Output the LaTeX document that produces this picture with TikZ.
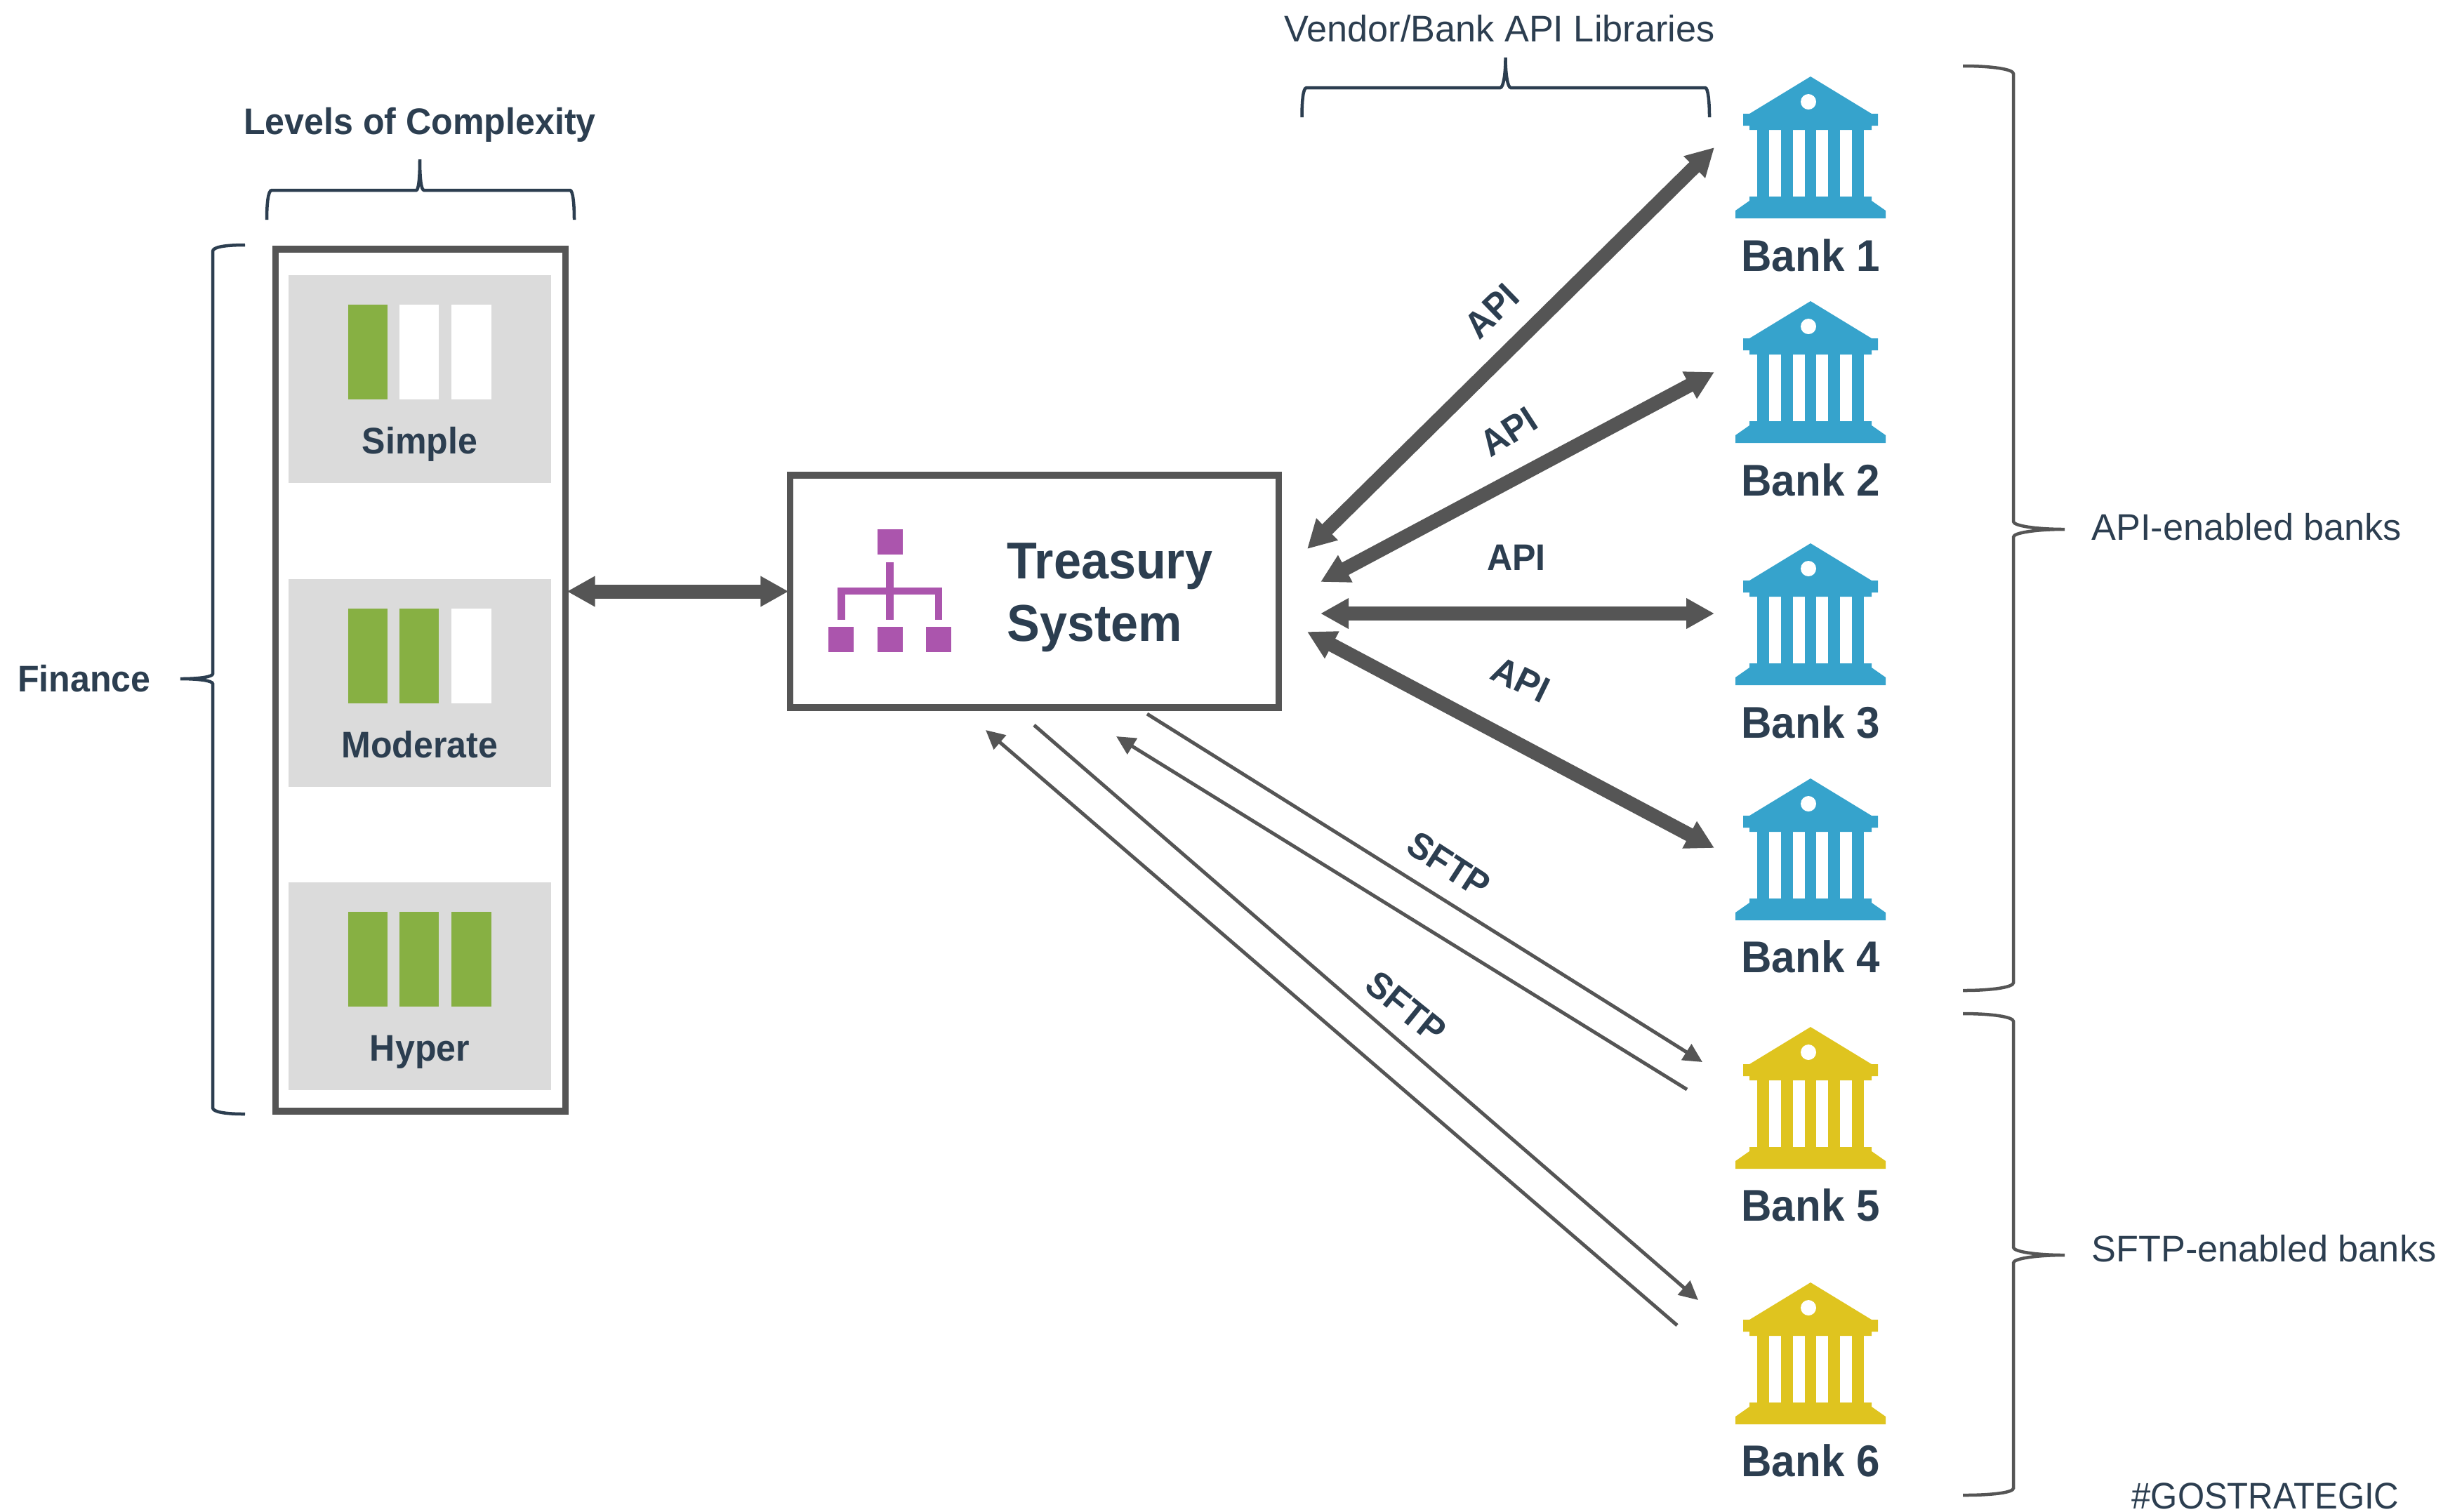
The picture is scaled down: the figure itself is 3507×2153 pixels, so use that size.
\documentclass[tikz,border=0pt]{standalone}
\usepackage{fontspec}
\setmainfont[FakeStretch=0.95]{Liberation Sans}
\newfontfamily\plainfont[FakeStretch=0.99]{Liberation Sans}
\newfontfamily\tagfont[FakeStretch=0.93]{Liberation Sans}
\usepackage{tikz}
\usetikzlibrary{arrows.meta}

\definecolor{textdark}{HTML}{2C3E50}
\definecolor{linegray}{HTML}{555555}
\definecolor{panelgray}{HTML}{DBDBDB}
\definecolor{barmark}{HTML}{87B043}
\definecolor{bankblue}{HTML}{36A3CC}
\definecolor{bankyellow}{HTML}{DFC41F}
\definecolor{orgpurple}{HTML}{AB55AD}

\tikzset{
  frame/.style={draw=linegray, line width=0.095cm, fill=white, inner sep=0pt, outer sep=0.02cm},
  level/.style={fill=panelgray, inner sep=0pt, minimum width=3.74cm, minimum height=2.96cm},
  boldlabel/.style={font=\fontsize{15}{18}\selectfont\bfseries, text=textdark, inner sep=0pt},
  banklabel/.style={font=\fontsize{18}{22}\selectfont\bfseries, text=textdark, inner sep=0pt, anchor=base},
  plainlabel/.style={font=\fontsize{15}{18}\plainfont\selectfont, text=textdark, inner sep=0pt},
  brace/.style={line width=0.045cm},
  apiarrow/.style={draw=linegray, line width=0.2cm,
    {Triangle[length=0.4cm,width=0.41cm]}-{Triangle[length=0.4cm,width=0.41cm]}},
  sftparrow/.style={draw=linegray, line width=0.05cm,
    -{Triangle[length=0.27cm,width=0.26cm]}},
  pics/bankicon/.style={code={
    \fill[#1] (0,0) -- (87,53) -- (96,53) -- (96,70) -- (87,70) -- (87,76)
      -- (-87,76) -- (-87,70) -- (-96,70) -- (-96,53) -- (-87,53) -- cycle;
    \fill[#1] (-76,70) rectangle (-59,175);
    \fill[#1] (-42,70) rectangle (-25,175);
    \fill[#1] (-8,70) rectangle (8,175);
    \fill[#1] (25,70) rectangle (42,175);
    \fill[#1] (59,70) rectangle (76,175);
    \fill[#1] (-87,171) -- (87,171) -- (87,177) -- (107,191) -- (107,202)
      -- (-107,202) -- (-107,191) -- (-87,177) -- cycle;
    \fill[white] (-3,36) circle (11);
  }}
}

\begin{document}
\begin{tikzpicture}[x=0.01cm,y=-0.01cm]
  \useasboundingbox (0,0) rectangle (3507,2153);

  % left column
  \node[frame, minimum width=4.13cm, minimum height=12.27cm] (finance) at (599,969) {};
  \node[level] (simple) at (598,540) {};
  \node[level] (moderate) at (598,973) {};
  \node[level] (hyper) at (598,1405) {};

  \fill[barmark] (496,434) rectangle (552,569);
  \fill[white] (569,434) rectangle (625,569);
  \fill[white] (643,434) rectangle (700,569);
  \fill[barmark] (496,867) rectangle (552,1002);
  \fill[barmark] (569,867) rectangle (625,1002);
  \fill[white] (643,867) rectangle (700,1002);
  \fill[barmark] (496,1299) rectangle (552,1434);
  \fill[barmark] (569,1299) rectangle (625,1434);
  \fill[barmark] (643,1299) rectangle (700,1434);

  \node[boldlabel, anchor=base] (simpletext) at (598,646) {Simple};
  \node[boldlabel, anchor=base] (moderatetext) at (598,1079) {Moderate};
  \node[boldlabel, anchor=base] (hypertext) at (598,1511) {Hyper};
  \node[boldlabel, anchor=base] (complexity) at (598,191) {Levels of Complexity};
  \node[boldlabel, anchor=base] (financetext) at (120,985) {Finance};

  % treasury box
  \node[frame, minimum width=6.96cm, minimum height=3.31cm] (treasury) at (1473.5,842.5) {};
  \fill[orgpurple] (1250,754) rectangle (1286,790);
  \fill[orgpurple] (1262,801) rectangle (1272.5,883);
  \fill[orgpurple] (1193,837) rectangle (1342,847);
  \fill[orgpurple] (1193,837) rectangle (1203.5,883);
  \fill[orgpurple] (1332,837) rectangle (1342,883);
  \fill[orgpurple] (1180,893) rectangle (1216,929);
  \fill[orgpurple] (1250,893) rectangle (1286,929);
  \fill[orgpurple] (1319,893) rectangle (1355,929);
  \node[font=\fontsize{21}{25}\selectfont\bfseries, text=textdark, inner sep=0pt, anchor=base west] (treasurytext) at (1434,824) {Treasury};
  \node[font=\fontsize{21}{25}\selectfont\bfseries, text=textdark, inner sep=0pt, anchor=base west] (systemtext) at (1434,913) {System};

  % banks
  \pic at (2579,109) {bankicon=bankblue};
  \pic at (2579,429) {bankicon=bankblue};
  \pic at (2579,774) {bankicon=bankblue};
  \pic at (2579,1109) {bankicon=bankblue};
  \pic at (2579,1463) {bankicon=bankyellow};
  \pic at (2579,1827) {bankicon=bankyellow};
  \node[banklabel] (bank1) at (2579,386) {Bank 1};
  \node[banklabel] (bank2) at (2579,706) {Bank 2};
  \node[banklabel] (bank3) at (2579,1051) {Bank 3};
  \node[banklabel] (bank4) at (2579,1385) {Bank 4};
  \node[banklabel] (bank5) at (2579,1739) {Bank 5};
  \node[banklabel] (bank6) at (2579,2103) {Bank 6};

  % arrow ends
  \coordinate (api1a) at (1862,782);
  \coordinate (api1b) at (2442,210);
  \coordinate (api2a) at (1881,829);
  \coordinate (api2b) at (2442,530);
  \coordinate (api3a) at (1881,874);
  \coordinate (api3b) at (2442,874);
  \coordinate (api4a) at (1862,900);
  \coordinate (api4b) at (2442,1208);
  \coordinate (sftp1a) at (1634,1017);
  \coordinate (sftp1b) at (2425,1513);
  \coordinate (sftp2a) at (2403,1552);
  \coordinate (sftp2b) at (1590,1049);
  \coordinate (sftp3a) at (1473,1033);
  \coordinate (sftp3b) at (2419,1852);
  \coordinate (sftp4a) at (2389,1888);
  \coordinate (sftp4b) at (1404,1040);

  \draw[apiarrow] (treasury.west -| finance.east) -- (treasury.west);
  \draw[apiarrow] (api1a) -- (api1b);
  \draw[apiarrow] (api2a) -- (api2b);
  \draw[apiarrow] (api3a) -- (api3b);
  \draw[apiarrow] (api4a) -- (api4b);
  \draw[sftparrow] (sftp1a) -- (sftp1b);
  \draw[sftparrow] (sftp2a) -- (sftp2b);
  \draw[sftparrow] (sftp3a) -- (sftp3b);
  \draw[sftparrow] (sftp4a) -- (sftp4b);

  \node[boldlabel, rotate=44] (api1text) at (2125,443) {API};
  \node[boldlabel, rotate=33] (api2text) at (2149,615) {API};
  \node[boldlabel] (api3text) at (2160,794) {API};
  \node[boldlabel, rotate=-26] (api4text) at (2166,968) {API};
  \node[boldlabel, rotate=-33] (sftp1text) at (2064,1232) {SFTP};
  \node[boldlabel, rotate=-39] (sftp2text) at (2003,1435) {SFTP};

  % braces
  \draw[brace, textdark] (380,313) .. controls (380,290) and (382,271) .. (387,271) -- (593,271)
    .. controls (596,271) and (598,255) .. (598,227) .. controls (598,255) and (600,271) .. (604,271)
    -- (812,271) .. controls (816,271) and (818,290) .. (818,313);
  \draw[brace, textdark] (1854.5,167) .. controls (1854.5,145) and (1856,125) .. (1861,125) -- (2137,125)
    .. controls (2141,125) and (2144.5,108) .. (2144.5,82) .. controls (2144.5,108) and (2148,125) .. (2152,125)
    -- (2429,125) .. controls (2433,125) and (2435,145) .. (2435,167);
  \draw[brace, textdark] (349,349) .. controls (320,349) and (303,352) .. (303,358) -- (303,960)
    .. controls (303,964) and (285,967) .. (257,967) .. controls (285,967) and (303,970) .. (303,974)
    -- (303,1578) .. controls (303,1584) and (320,1587) .. (349,1587);
  \draw[brace, linegray] (2796,94) .. controls (2840,94) and (2868,99) .. (2868,105) -- (2868,743)
    .. controls (2868,749) and (2900,754) .. (2941,754) .. controls (2900,754) and (2868,759) .. (2868,765)
    -- (2868,1400) .. controls (2868,1406) and (2840,1411) .. (2796,1411);
  \draw[brace, linegray] (2796,1444) .. controls (2840,1444) and (2868,1449) .. (2868,1455) -- (2868,1777)
    .. controls (2868,1783) and (2900,1788) .. (2941,1788) .. controls (2900,1788) and (2868,1793) .. (2868,1799)
    -- (2868,2120) .. controls (2868,2126) and (2840,2130) .. (2796,2130);

  \node[plainlabel, anchor=base] (vendortext) at (2136,59) {Vendor/Bank API Libraries};
  \node[plainlabel, anchor=base west] (apibanks) at (2979,769) {API-enabled banks};
  \node[plainlabel, anchor=base west] (sftpbanks) at (2979,1797) {SFTP-enabled banks};
  \node[font=\fontsize{15}{18}\tagfont\selectfont, text=textdark, inner sep=0pt, anchor=base east] (hashtag) at (3418,2149) {\#GOSTRATEGIC};
\end{tikzpicture}
\end{document}
